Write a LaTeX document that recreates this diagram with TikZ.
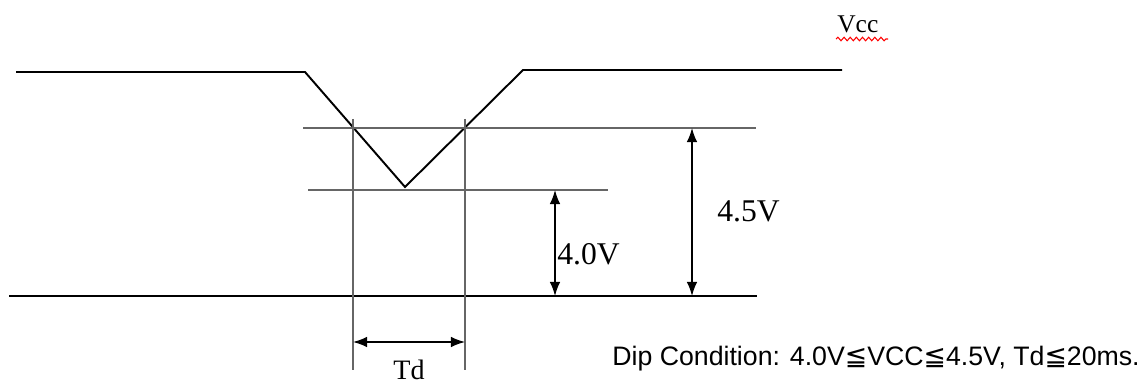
\documentclass[tikz,border=0pt]{standalone}
\usepackage{fontspec}
\setmainfont{Liberation Serif}
\newfontfamily\condfont{Liberation Sans}
\newfontfamily\symfont{DejaVu Sans}
\usetikzlibrary{arrows.meta,decorations.pathmorphing}
\tikzset{
  signal/.style={black,line width=1.1pt},
  level/.style={black!60,line width=0.6pt},
  dimarrow/.style={black,line width=0.8pt,{Latex[length=8pt,width=6pt]}-{Latex[length=8pt,width=6pt]}},
  vlabel/.style={inner sep=0pt,font=\fontsize{18}{18}\selectfont}
}
\newcommand{\leqsym}{{\symfont ≦}}
\begin{document}
\begin{tikzpicture}[x=0.02cm,y=-0.02cm]
        \useasboundingbox (0,0) rectangle (1144,385);

        % signal corners
        \coordinate (S0) at (16,72);
        \coordinate (S1) at (305,72);
        \coordinate (S2) at (405,187);
        \coordinate (S3) at (523,70);
        \coordinate (S4) at (842,70);

        % level lines
        \coordinate (H0) at (303,128);
        \coordinate (H1) at (756,128);
        \coordinate (L0) at (308,190);
        \coordinate (L1) at (608,190);
        \coordinate (G0) at (9,296);
        \coordinate (G1) at (757,296);

        % Td verticals
        \coordinate (T0) at (353,119);
        \coordinate (T1) at (353,370);
        \coordinate (U0) at (465,119);
        \coordinate (U1) at (465,370);

        \draw[signal] (S0) -- (S1) -- (S2) -- (S3) -- (S4);
        \draw[level] (H0) -- (H1);
        \draw[level] (L0) -- (L1);
        \draw[signal] (G0) -- (G1);
        \draw[level] (T0) -- (T1);
        \draw[level] (U0) -- (U1);

        % dimensions
        \coordinate (A0) at (555,190);
        \coordinate (A1) at (555,296);
        \coordinate (B0) at (692,128);
        \coordinate (B1) at (692,296);
        \coordinate (C0) at (353,342);
        \coordinate (C1) at (465,342);
        \draw[dimarrow] (A0) -- (A1);
        \draw[dimarrow] (B0) -- (B1);
        \draw[dimarrow] (C0) -- (C1);

        \node[vlabel,anchor=west] (lowv) at (557,254) {4.0V};
        \node[vlabel,anchor=west] (highv) at (717,211) {4.5V};
        \node[vlabel,anchor=base,font=\fontsize{16}{16}\selectfont] (td) at (409,379) {Td};

        \node[inner sep=0pt,anchor=west,font=\fontsize{14.5}{14.5}\selectfont] (vcc) at (837,24) {Vcc};
        \coordinate (W0) at (836,39);
        \coordinate (W1) at (888,39);
        \draw[red,line width=0.6pt,decorate,decoration={snake,amplitude=1pt,segment length=3.5pt}] (W0) -- (W1);

        \node[inner sep=0pt,anchor=base east,font=\condfont\fontsize{15.2}{16}\selectfont] (cond) at (1140,365)
          {Dip Condition: 4.0V\leqsym VCC\leqsym 4.5V, Td\leqsym 20ms.};
\end{tikzpicture}
\end{document}
